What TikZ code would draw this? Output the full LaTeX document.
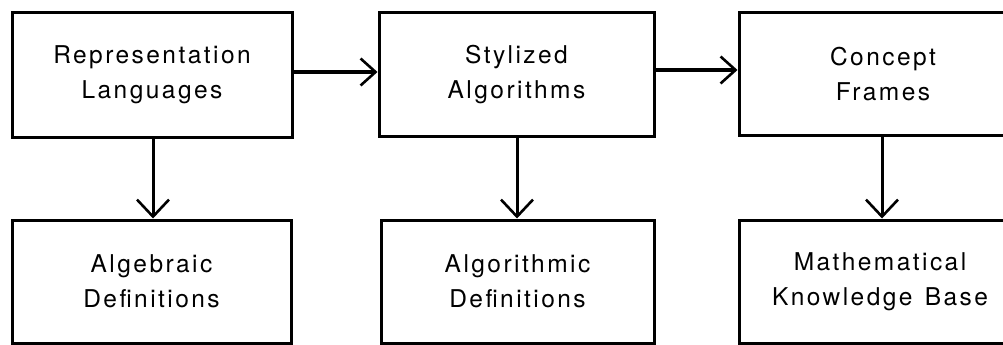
\documentclass[tikz,border=0pt]{standalone}
\usepackage{fontspec}
\setmainfont{TeX Gyre Heros}[LetterSpace=10]
\usetikzlibrary{arrows.meta}
\begin{document}
\begin{tikzpicture}[x=1pt,y=-1pt,
  box/.style={draw,line width=3pt,rectangle,inner sep=0pt,align=center,
    font=\fontsize{24.5}{35}\selectfont},
  conn/.style={line width=3pt,-{Straight Barb[length=17pt,width=32pt,line width=2.6pt]}},
  hconn/.style={line width=3.6pt,-{Straight Barb[length=15pt,width=27pt,line width=2.6pt]}}]
\useasboundingbox (0,0) rectangle (1003,345);
\clip (0,0) rectangle (1003,345);
\node[box,minimum width=280pt,minimum height=124pt] (rl) at (152,75) {Representation\\Languages};
\node[box,minimum width=275pt,minimum height=123pt] (sa) at (516.5,74.5) {Stylized\\Algorithms};
\node[box,minimum width=288pt,minimum height=122pt,text width=270pt] (cf) at (883,74) {Concept\\Frames};
\node[box,minimum width=279pt,minimum height=123pt] (ad) at (151.5,281.5) {Algebraic\\Definitions};
\node[box,minimum width=273pt,minimum height=123pt] (alg) at (517.5,281.5) {Algorithmic\\Definitions};
\node[box,minimum width=282pt,minimum height=123pt,text width=270pt] (mk) at (880,281.5) {Mathematical\\Knowledge\, Base};
\coordinate (cfw) at (cf.west |- 0,70);
\draw[hconn] (rl.east |- 0,72) -- (sa.west |- 0,72);
\draw[hconn] (sa.east |- 0,70) -- (cfw);
\draw[conn] (rl.south -| 153,0) -- (ad.north -| 153,0);
\draw[conn] (sa.south -| 517,0) -- (alg.north -| 517,0);
\draw[conn] (cf.south -| 882,0) -- (mk.north -| 882,0);
\end{tikzpicture}
\end{document}
